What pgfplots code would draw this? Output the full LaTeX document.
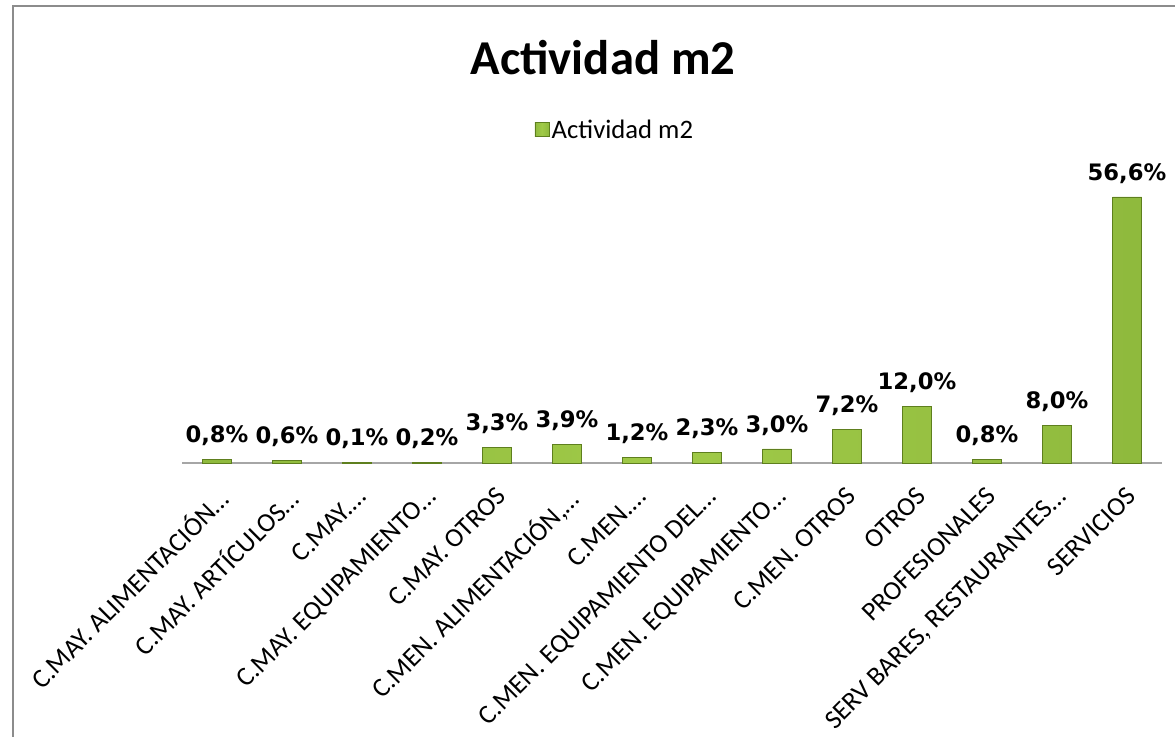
\documentclass[border=0pt]{standalone}
\usepackage{pgfplots}
\pgfplotsset{compat=1.18}
\usepackage{pgfplotstable}
\usepackage{fontspec}
\setmainfont{Carlito}
\newfontfamily\vfont{DejaVu Sans}
\definecolor{barmid}{HTML}{A0CA48}
\definecolor{barlight}{HTML}{8AB53A}
\definecolor{baredge}{HTML}{5E7F1E}
\definecolor{framegray}{HTML}{8C8C8C}
\pgfdeclarehorizontalshading{barshade}{100bp}{color(0bp)=(baredge); color(18bp)=(barlight); color(50bp)=(barmid); color(82bp)=(barlight); color(100bp)=(baredge)}
\pgfplotstableread{
x y lab
0 0.8 0,8
1 0.6 0,6
2 0.1 0,1
3 0.2 0,2
4 3.3 3,3
5 3.9 3,9
6 1.2 1,2
7 2.3 2,3
8 3.0 3,0
9 7.2 7,2
10 12.0 12,0
11 0.8 0,8
12 8.0 8,0
13 56.6 56,6
}\data
\begin{document}
\begin{tikzpicture}
\path[use as bounding box] (0pt,0pt) rectangle (881.25pt,552.75pt);
\begin{axis}[
  at={(136.5pt,205.5pt)}, anchor=south west,
  scale only axis, width=735pt, height=211.5pt,
  xmin=-0.5, xmax=13.5, ymin=0, ymax=60,
  clip=false,
  axis y line=none,
  axis x line*=bottom,
  x axis line style={draw=gray!70, line width=0.9pt, -},
  xtick=data, major tick length=0pt,
  xticklabels={C.MAY. ALIMENTACIÓN…, C.MAY. ARTÍCULOS…, C.MAY.…, C.MAY. EQUIPAMIENTO…, C.MAY. OTROS, {C.MEN. ALIMENTACIÓN,…}, C.MEN.…, C.MEN. EQUIPAMIENTO DEL…, C.MEN. EQUIPAMIENTO…, C.MEN. OTROS, OTROS, PROFESIONALES, {SERV BARES, RESTAURANTES…}, SERVICIOS},
  xticklabel style={xshift=-1.5pt, yshift=-17pt, rotate=45, anchor=north east, inner sep=0pt, font=\fontsize{20}{24}\selectfont},
  title={\textbf{Actividad m2}},
  title style={at={(0.4296,1.348)}, anchor=base, font=\fontsize{36.5}{40}\selectfont},
  legend style={at={(0.442,1.181)}, anchor=center, draw=none, fill=none, font=\fontsize{20}{24}\selectfont, inner sep=0pt},
  legend image code/.code={\shade[shading=barshade, draw=baredge, line width=0.3pt] (-2pt,-5pt) rectangle (8.5pt,5.5pt);},
  point meta=explicit symbolic,
  nodes near coords={\pgfplotspointmeta\%},
  nodes near coords style={anchor=base, inner sep=0pt, yshift=12.5pt, font=\vfont\bfseries\fontsize{17}{20}\selectfont, text=black},
]
\addplot[ybar, bar width=21.75pt, draw=baredge, line width=0.4pt, shading=barshade, shade]
  table[x=x, y=y, meta=lab] {\data};
\addlegendentry{Actividad m2}
\end{axis}
\draw[framegray, line width=1.4pt] (9.75pt,0pt) -- (9.75pt,548.25pt) -- (881.25pt,548.25pt);
\end{tikzpicture}
\end{document}
